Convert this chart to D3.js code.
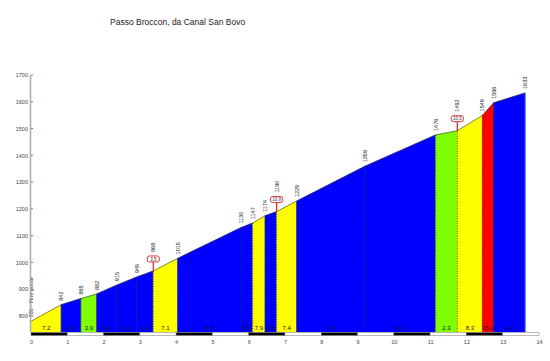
<!DOCTYPE html>
<html>
<head>
<meta charset="utf-8">
<script src="https://cdn.jsdelivr.net/npm/d3@7"></script>
<style>
  body { margin: 0; background: #fff; }
  text { font-family: "Liberation Sans", Arial, sans-serif; }
</style>
</head>
<body>
<svg class="chart" width="550" height="361"></svg>
<script>
"use strict";

// profile breakpoints (km from start, altitude in m)
let kms = [0, 0.83, 1.38, 1.81, 2.36, 2.91, 3.37, 4.04, 5.79, 6.11, 6.45, 6.77, 7.32, 9.20, 11.15, 11.75, 12.44, 12.75, 13.62];
let altitudes = [780, 842, 865, 882, 915, 945, 968, 1015, 1130, 1147, 1174, 1190, 1229, 1359, 1476, 1492, 1549, 1596, 1633];
let altLabels = ["780 - Fine ponte", "842", "865", "882", "915", "945", "968", "1015", "1130", "1147", "1174", "1190", "1229", "1359", "1476", "1492", "1549", "1596", "1633"];
// one entry per segment
let gradients = ["7.2", "4.2", "3.9", "6.0", "6.1", "4.3", "7.1", "6.6", "5.2", "7.9", "5.6", "7.4", "7.0", "6.1", "2.3", "8.3", "15.2", "4.4"];
let segColors = ["#ffff00", "#0000ff", "#80ff00", "#0000ff", "#0000ff", "#0000ff", "#ffff00", "#0000ff", "#0000ff", "#ffff00", "#0000ff", "#ffff00", "#0000ff", "#0000ff", "#80ff00", "#ffff00", "#ff0000", "#0000ff"];
// boxed markers (index of breakpoint + text)
let markerIdx = [6, 11, 15];
let markerText = ["3.5", "10.9", "10.5"];
let xTicks = [0, 1, 2, 3, 4, 5, 6, 7, 8, 9, 10, 11, 12, 13, 14];
let yTicks = [800, 900, 1000, 1100, 1200, 1300, 1400, 1500, 1600, 1700];

let svg = d3.select('.chart');

let x = d3.scaleLinear().domain([0, 14]).range([31, 539]);
let y = d3.scaleLinear().domain([740, 1700]).range([332, 75]);
let base = y(740);

svg.append('text')
  .attr('x', 110)
  .attr('y', 25)
  .attr('font-size', 8.5)
  .attr('fill', '#222')
  .text('Passo Broccon, da Canal San Bovo');

// segments
let segs = gradients.map((g, i) => ({
  x0: kms[i], x1: kms[i + 1], a0: altitudes[i], a1: altitudes[i + 1], g: g, c: segColors[i]
}));

svg.selectAll('.seg')
  .data(segs)
  .enter()
  .append('path')
  .attr('class', 'seg')
  .attr('d', d => {
    return "M" + x(d.x0) + "," + base + "L" + x(d.x0) + "," + y(d.a0) +
      "L" + x(d.x1) + "," + y(d.a1) + "L" + x(d.x1) + "," + base + "Z";
  })
  .attr('fill', d => d.c)
  .attr('stroke', d => d.c)
  .attr('stroke-width', 0.5);

// dotted separators
svg.selectAll('.sep')
  .data(kms.slice(1, -1).map((k, i) => ({ k: k, a: altitudes[i + 1] })))
  .enter()
  .append('line')
  .attr('x1', d => x(d.k))
  .attr('x2', d => x(d.k))
  .attr('y1', d => y(d.a))
  .attr('y2', base)
  .attr('stroke', '#222')
  .attr('stroke-width', 0.8)
  .attr('stroke-dasharray', '1,1.5');

// top outline
let line = d3.line().x(d => x(d[0])).y(d => y(d[1]));
svg.append('path')
  .attr('d', line(kms.map((k, i) => [k, altitudes[i]])))
  .attr('fill', 'none')
  .attr('stroke', '#333')
  .attr('stroke-width', 0.6);

svg.append('line')
  .attr('x1', x(13.62)).attr('x2', x(13.62))
  .attr('y1', y(1633)).attr('y2', base)
  .attr('stroke', '#6f8fff').attr('stroke-width', 0.8);

// gradient labels
svg.selectAll('.grad')
  .data(segs)
  .enter()
  .append('text')
  .attr('x', d => x((d.x0 + d.x1) / 2))
  .attr('y', 330)
  .attr('text-anchor', 'middle')
  .attr('font-size', 6)
  .attr('fill', '#111')
  .text(d => d.g);

// altitude labels
svg.selectAll('.alt')
  .data(kms.map((k, i) => ({ k: k, a: altitudes[i], t: altLabels[i], m: markerIdx.indexOf(i) >= 0 })))
  .enter()
  .append('text')
  .attr('transform', d => "translate(" + (x(d.k) + 2) + "," + (y(d.a) - (d.m ? 19 : 4)) + ") rotate(-90)")
  .attr('font-size', 5.5)
  .attr('fill', '#222')
  .text(d => d.t);

// boxed markers
let markers = markerIdx.map((idx, i) => ({ k: kms[idx], a: altitudes[idx], t: markerText[i] }));
let mk = svg.selectAll('.mk')
  .data(markers)
  .enter()
  .append('g')
  .attr('transform', d => "translate(" + x(d.k) + "," + y(d.a) + ")");
mk.append('line')
  .attr('y1', 0).attr('y2', -9)
  .attr('stroke', '#e02020').attr('stroke-width', 1.2);
mk.append('rect')
  .attr('x', -6).attr('y', -15).attr('width', 12).attr('height', 6)
  .attr('rx', 2)
  .attr('fill', '#fff').attr('stroke', '#e02020').attr('stroke-width', 0.9);
mk.append('text')
  .attr('y', -10.3)
  .attr('text-anchor', 'middle')
  .attr('font-size', 4.5)
  .attr('fill', '#333')
  .text(d => d.t);

// y axis
svg.append('line')
  .attr('x1', 30.5).attr('x2', 30.5)
  .attr('y1', y(1700)).attr('y2', base)
  .attr('stroke', '#aaa').attr('stroke-width', 1.5);
let yAxis = svg.append('g')
  .attr('transform', 'translate(31,0)')
  .call(d3.axisLeft(y).tickValues(yTicks).tickSize(0).tickPadding(3).tickFormat(d3.format('d')));
yAxis.select('.domain').remove();
yAxis.selectAll('text')
  .attr('font-size', 5.5)
  .attr('fill', '#444')
  .style('font-family', '"Liberation Sans", Arial, sans-serif');
svg.selectAll('.ytick')
  .data(yTicks)
  .enter()
  .append('line')
  .attr('x1', 31).attr('x2', 33)
  .attr('y1', d => y(d)).attr('y2', d => y(d))
  .attr('stroke', '#e03030').attr('stroke-width', 0.8);

// km strip
svg.selectAll('.km')
  .data(xTicks.slice(0, -1))
  .enter()
  .append('rect')
  .attr('x', d => x(d))
  .attr('y', 332.5)
  .attr('width', d => x(d + 1) - x(d))
  .attr('height', 3)
  .attr('fill', d => d % 2 === 0 ? '#000' : '#fff')
  .attr('stroke', '#777')
  .attr('stroke-width', 0.5);

let xAxis = svg.append('g')
  .attr('transform', 'translate(0,336)')
  .call(d3.axisBottom(x).tickValues(xTicks).tickSize(0).tickPadding(4).tickFormat(d3.format('d')));
xAxis.select('.domain').remove();
xAxis.selectAll('text')
  .attr('font-size', 5.5)
  .attr('fill', '#444')
  .style('font-family', '"Liberation Sans", Arial, sans-serif');
</script>
</body>
</html>
